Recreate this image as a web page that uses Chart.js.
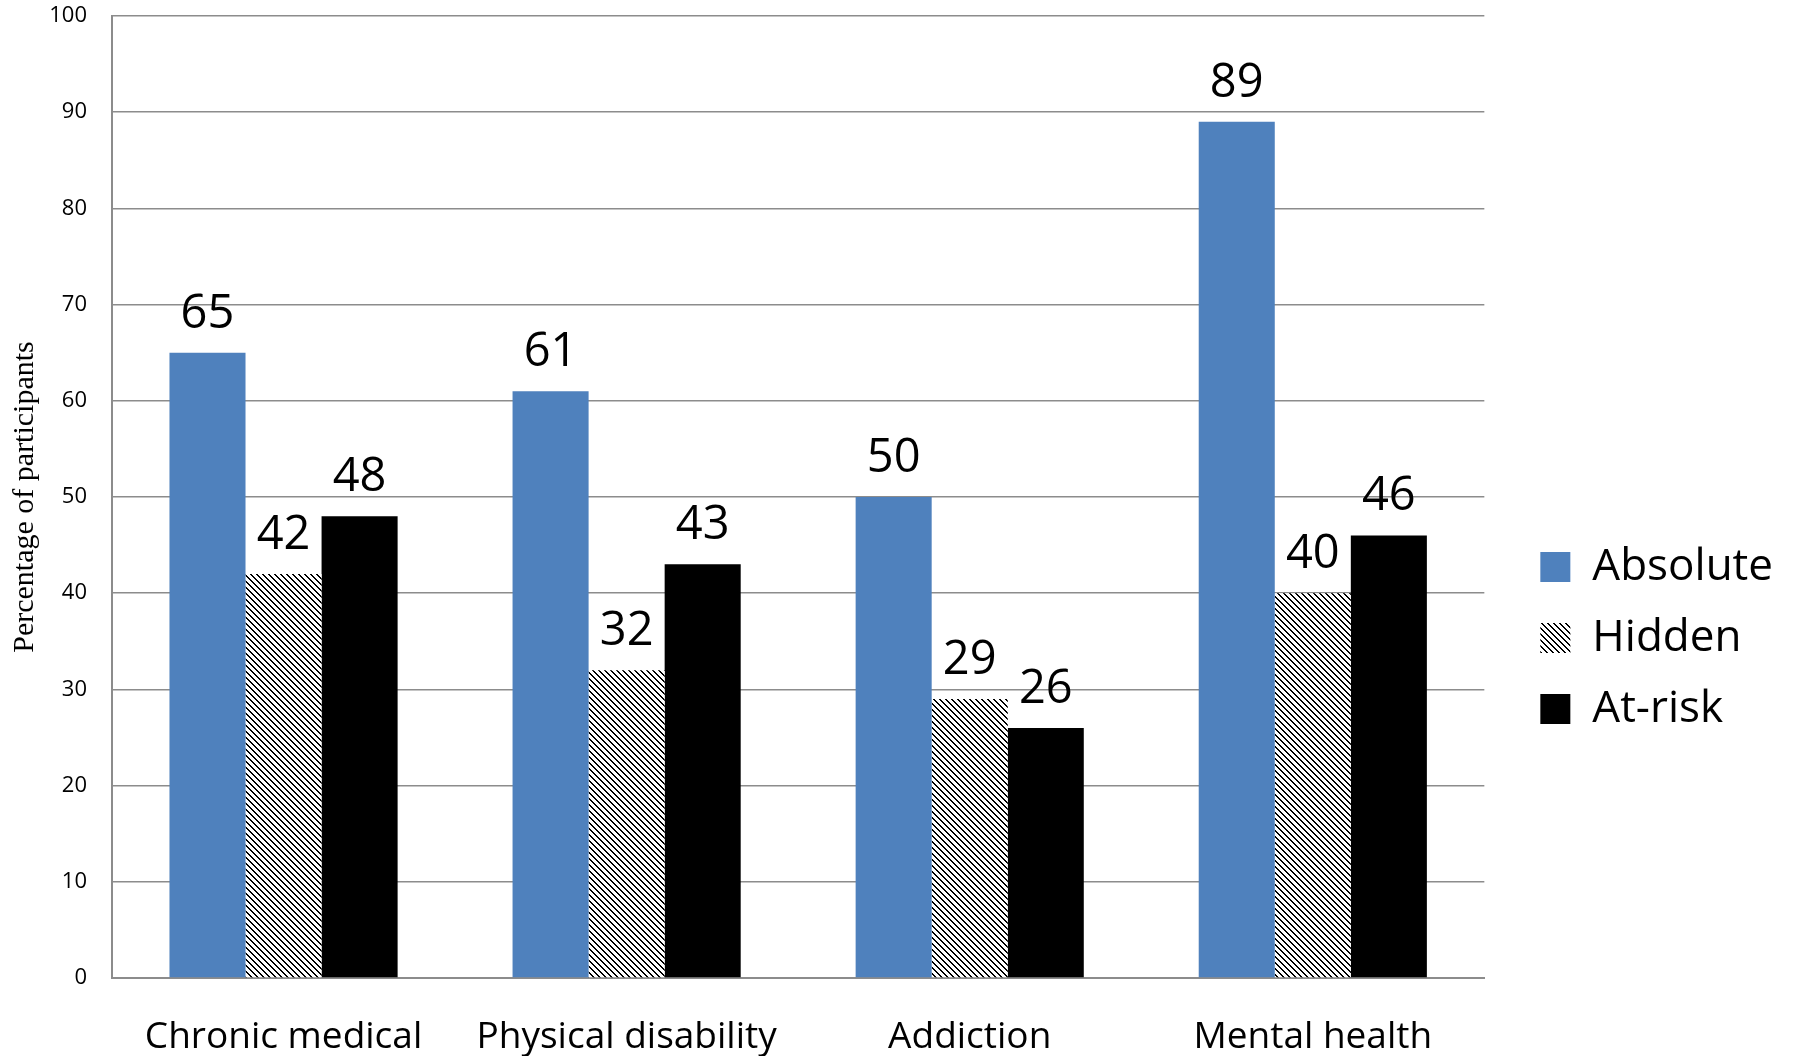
<!DOCTYPE html>
<html>
<head>
<meta charset="utf-8">
<script src="https://cdn.jsdelivr.net/npm/chart.js@4.4.1/dist/chart.umd.min.js"></script>
<style>
    html, body { margin: 0; padding: 0; background: #ffffff; }
    #chartBox { width: 1797px; height: 1056px; }
</style>
</head>
<body>
<div id="chartBox">
    <canvas id="barChart" width="1797" height="1056"></canvas>
</div>
<script>
const categories = ['Chronic medical', 'Physical disability', 'Addiction', 'Mental health'];
const seriesNames = ['Absolute', 'Hidden', 'At-risk'];
const absoluteValues = [65, 61, 50, 89];
const hiddenValues = [42, 32, 29, 40];
const atRiskValues = [48, 43, 26, 46];
const yTicks = [0, 10, 20, 30, 40, 50, 60, 70, 80, 90, 100];

//Build the diagonal hatch used for the Hidden series.
function makeHatch() {
    var patternCanvas = document.createElement('canvas');
    patternCanvas.width = 6;
    patternCanvas.height = 6;
    var pctx = patternCanvas.getContext('2d');
    pctx.fillStyle = '#ffffff';
    pctx.fillRect(0, 0, 6, 6);
    pctx.fillStyle = '#000000';
    for (let i = 0; i < 6; i++) {
        pctx.fillRect(i, i, 1, 1);
        pctx.fillRect((i + 1) % 6, i, 1, 1);
    }
    return pctx.createPattern(patternCanvas, 'repeat');
}

//Write each value above its bar.
const valueLabels = {
    id: 'valueLabels',
    afterDatasetsDraw(chart) {
        var ctx = chart.ctx;
        ctx.save();
        ctx.font = '47px "Open Sans"';
        ctx.fillStyle = '#000000';
        ctx.textAlign = 'center';
        ctx.textBaseline = 'alphabetic';
        chart.data.datasets.forEach(function (dataSet, d) {
            chart.getDatasetMeta(d).data.forEach(function (bar, i) {
                ctx.fillText(String(dataSet.data[i]), bar.x, bar.y - 25);
            });
        });
        ctx.restore();
    }
};

//Move the legend to where the original sits.
const legendShift = {
    id: 'legendShift',
    afterLayout(chart) {
        var legend = chart.legend;
        legend.left += 29;
        legend.right += 29;
        legend.top += 102;
        legend.bottom += 102;
    }
};

var barChartControl = document.getElementById('barChart');
var hatch = makeHatch();

var barChart = new Chart(barChartControl, {
    type: 'bar',
    data: {
        labels: categories,
        datasets: [
            { label: seriesNames[0], data: absoluteValues, backgroundColor: '#4f81bd', borderWidth: 0 },
            { label: seriesNames[1], data: hiddenValues, backgroundColor: hatch, borderWidth: 0 },
            { label: seriesNames[2], data: atRiskValues, backgroundColor: '#000000', borderWidth: 0 }
        ]
    },
    options: {
        responsive: false,
        animation: false,
        devicePixelRatio: 1,
        layout: {
            padding: { top: 16, right: 43, left: 0, bottom: 0 }
        },
        datasets: {
            bar: { categoryPercentage: 0.665, barPercentage: 1.0 }
        },
        scales: {
            x: {
                grid: { display: false, drawTicks: false },
                border: { display: true, color: '#8c8c8c', width: 2 },
                ticks: {
                    color: '#000000',
                    font: { family: 'Open Sans', size: 37 },
                    padding: 37,
                    maxRotation: 0
                },
                afterFit: function (scale) { scale.height = 78; }
            },
            y: {
                min: 0,
                max: 100,
                afterBuildTicks: function (scale) {
                    scale.ticks = yTicks.map(function (v) { return { value: v }; });
                },
                grid: { color: '#8c8c8c', lineWidth: 1.5, drawTicks: false },
                border: { display: true, color: '#8c8c8c', width: 2 },
                ticks: {
                    color: '#000000',
                    font: { family: 'Open Sans', size: 22 },
                    padding: 25
                },
                title: {
                    display: true,
                    text: 'Percentage of participants',
                    color: '#000000',
                    font: { family: 'Liberation Serif', size: 30 },
                    padding: { top: 7, bottom: 0 }
                },
                afterFit: function (scale) {
                    scale.width = 112;
                    scale.paddingTop = 0;
                    scale.paddingBottom = 0;
                }
            }
        },
        plugins: {
            legend: {
                display: true,
                position: 'right',
                labels: {
                    color: '#000000',
                    font: { family: 'Open Sans', size: 44 },
                    boxWidth: 30,
                    boxHeight: 30,
                    padding: 27
                }
            },
            tooltip: { enabled: false }
        }
    },
    plugins: [valueLabels, legendShift]
});
</script>
</body>
</html>
